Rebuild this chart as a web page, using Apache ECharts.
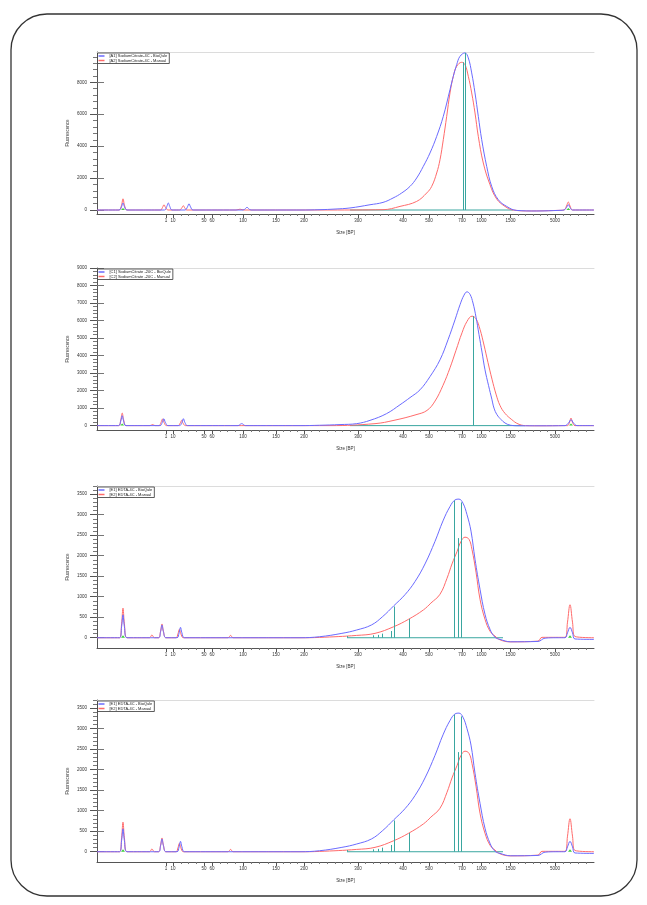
<!DOCTYPE html>
<html><head><meta charset="utf-8">
<script src="https://cdn.jsdelivr.net/npm/echarts@6/dist/echarts.min.js"></script>
<style>html,body{margin:0;padding:0;background:#fff}#c{width:647px;height:905px}</style>
</head><body><div id="c"></div>
<script>
// ---- X axis: migration position (0..497) with size labels [bp] ----
const xTickPos    = [69, 76, 107, 115, 146, 179, 207, 261, 306, 332, 365, 384.5, 413.5, 458];
const xTickLabels = ['1','10','50','60','100','150','200','300','400','500','700','1000','1500','5000'];
const xMaxPos = 497;

// ---- Y tick labels per panel ----
const yTicksA = [0, 2000, 4000, 6000, 8000];
const yTicksC = [0, 1000, 2000, 3000, 4000, 5000, 6000, 7000, 8000, 9000];
const yTicksE = [0, 500, 1000, 1500, 2000, 2500, 3000, 3500];

// ---- Legend names ----
const namesA = ['[A1] SodiumCitrate-4C - BioQule', '[A2] SodiumCitrate-4C - Manual'];
const namesC = ['[C1] SodiumCitrate -20C - BioQule', '[C2] SodiumCitrate -20C - Manual'];
const namesE = ['[E1] EDTA-4C - BioQule', '[E2] EDTA-4C - Manual'];

// ---- Panel A (SodiumCitrate-4C) : [position, fluorescence] ----
const pA_blue = [[0,0],[22,0],[24.5,200],[26,440],[27.5,200],[30,0],[67.5,0],[69.8,220],[71.3,440],[72.8,220],[75,0],[88,0],[90.5,200],[92,395],[93.5,200],[96,0],[146,0],[148.5,90],[150,180],[151.5,90],[154,0],[203,0],[223,20],[238,60],[253,128],[273,330],[286,477],[296,750],[304.7,1066],[313,1480],[319.7,2006],[326.3,2734],[333,3574],[339.7,4615],[346.3,5869],[353,7543],[356.3,8377],[359.7,9110],[363,9630],[368,9844],[371.3,9530],[374.7,8590],[378,7336],[381.3,5869],[384.7,4408],[389.7,2734],[394.7,1480],[401.3,646],[409.7,226],[419.7,-25],[439.7,-60],[463,-20],[467,0],[469.5,160],[471.3,332],[473,160],[475.5,0],[497,0]];
const pA_red  = [[0,0],[22,0],[24.5,300],[26,708],[27.5,300],[30,0],[63.5,0],[65.5,160],[67,330],[68.5,160],[71,0],[82.5,0],[84.8,130],[86.3,270],[87.8,130],[90,0],[139,0],[143,50],[147,0],[233,0],[286,20],[303,226],[319.7,540],[329.7,1066],[334.7,1480],[339.7,2320],[343,3150],[346.3,4408],[349.7,5869],[353,7336],[356.3,8377],[359.7,9005],[364.7,9255],[368,9110],[371.3,8377],[374.7,7336],[378,6082],[381.3,4615],[386.3,2946],[393,1586],[399.7,690],[408,226],[416,0],[433,-60],[463,-20],[467,0],[469.5,250],[471.3,500],[473,250],[475.5,0],[497,0]];
const pA_peaks = [[366.3,9255],[368.7,9844]];
const pA_base  = [253, 416];
const pA_marker = [[26,130],[471.3,130]];

// ---- Panel C (SodiumCitrate -20C) ----
const pC_blue = [[0,0],[21.5,0],[23.8,270],[25.2,566],[26.6,270],[29,0],[63,0],[65.3,190],[66.8,396],[68.3,190],[71,0],[82.5,0],[85,190],[86.4,396],[87.8,190],[90.5,0],[141,0],[144.7,113],[148.5,0],[203,0],[222.6,20],[243,60],[259.7,113],[273,300],[289.4,680],[303,1190],[313,1600],[323,2044],[333,2800],[343,3757],[351,4900],[358,6040],[363,6900],[367,7450],[370,7640],[373,7500],[376,7000],[379,6200],[382,5200],[385,4200],[388,3186],[391.5,2300],[395,1473],[397,1000],[400,623],[404,350],[408,150],[413.7,20],[423,-10],[443,-10],[468,0],[471.5,150],[474,340],[476.5,150],[480,0],[497,0]];
const pC_red  = [[0,0],[21.5,0],[23.8,340],[25.2,717],[26.6,340],[29,0],[53,0],[55.6,60],[58,0],[62,0],[64,180],[65.5,380],[67,180],[69.5,0],[81,0],[83.2,140],[84.6,300],[86,140],[88.5,0],[233,0],[278,113],[297,302],[319,623],[330,868],[338,1400],[346,2300],[353,3300],[359,4300],[365,5300],[370,5950],[375,6250],[379,6100],[383,5500],[387,4600],[391,3600],[395,2650],[399,1800],[403,1150],[408,700],[414.8,340],[421,100],[428.5,0],[443,-10],[468,0],[470.5,0],[472.6,200],[474,434],[475.4,200],[478,0],[497,0]];
const pC_peaks = [[375.8,6250]];
const pC_base  = [253, 428];
const pC_marker = [[25.2,120],[474,120]];

// ---- Panel E (EDTA-4C) ----
const pE_blue = [[0,0],[22.5,0],[24.6,270],[26,558],[27.4,270],[30,0],[61.5,0],[63.6,150],[65,312],[66.4,150],[69,0],[80,0],[82.1,120],[83.5,254],[84.9,120],[87.5,0],[203,0],[222.6,25],[244.9,107],[259.7,189],[274.5,312],[285.7,517],[296.8,780],[308,1050],[318,1370],[328,1800],[338,2350],[346,2850],[353,3200],[358,3360],[362,3380],[366,3280],[370,3000],[374,2600],[378,1915],[383,1183],[388,573],[393,207],[398,12],[403,-40],[413.7,-98],[441,-90],[448,-10],[460,0],[468,0],[470.5,120],[473,254],[475.5,120],[478,-30],[497,-40]];
const pE_red  = [[0,0],[22.5,0],[24.6,340],[26,722],[27.4,340],[30,0],[52.5,0],[54.9,66],[57.5,0],[61.5,0],[63.6,160],[65,336],[66.4,160],[69,0],[79,0],[81,100],[82.4,205],[83.8,100],[86.5,0],[131,0],[133.6,57],[136,0],[203,0],[222.6,8],[259.7,57],[278,107],[296.8,270],[311.6,451],[326.5,680],[333.9,845],[343,1061],[350,1450],[355,1800],[360,2100],[364,2350],[368,2452],[372,2400],[375,2150],[379,1600],[383,940],[388,450],[393,160],[398,40],[403,-50],[413,-100],[441,-82],[445,10],[468,10],[470.5,380],[473,804],[475.5,380],[478,30],[497,0]];
const pE_peaks = [[250.4,40],[276.4,60],[281,70],[285.7,100],[293.8,164],[297.5,762],[312.4,459],[357.2,3340],[361.6,2430],[364.6,3300]];
const pE_base  = [250, 406];
const pE_marker = [[26,60],[473,60]];

const BLUE = '#6b6bff', RED = '#ff6b6b', TEAL = '#3aa6a0', GREEN = '#3fcf3f';
const FONT = 'Liberation Sans, Arial, sans-serif';

const panels = [
  {names:namesA, blue:pA_blue, red:pA_red, peaks:pA_peaks, base:pA_base, marker:pA_marker, yMax:9900, yTicks:yTicksA, top:52},
  {names:namesC, blue:pC_blue, red:pC_red, peaks:pC_peaks, base:pC_base, marker:pC_marker, yMax:9000, yTicks:yTicksC, top:268},
  {names:namesE, blue:pE_blue, red:pE_red, peaks:pE_peaks, base:pE_base, marker:pE_marker, yMax:3700, yTicks:yTicksE, top:486},
  {names:namesE, blue:pE_blue, red:pE_red, peaks:pE_peaks, base:pE_base, marker:pE_marker, yMax:3700, yTicks:yTicksE, top:700}
];

// minor x ticks: subdivide each labelled interval
const xMinor = [];
(function(){
  const pts = xTickPos.concat([xMaxPos]);
  for (let i = 0; i < pts.length - 1; i++) {
    const g = pts[i+1] - pts[i];
    const n = Math.max(1, Math.round(g / 8));
    for (let k = 1; k < n; k++) xMinor.push(pts[i] + g * k / n);
  }
})();
function yMinorOf(ticks, max) {
  const step = ticks[1] - ticks[0], out = [];
  for (let v = 0; v <= max; v += step / 5) {
    if (ticks.indexOf(Math.round(v)) < 0) out.push(v);
  }
  return out;
}
function labelFor(v) {
  let best = 0, bd = 1e9;
  xTickPos.forEach((p, i) => { const d = Math.abs(p - v); if (d < bd) { bd = d; best = i; } });
  return xTickLabels[best];
}

const grid = [], xAxis = [], yAxis = [], series = [], legend = [];
panels.forEach((p, i) => {
  grid.push({left:97, width:497, top:p.top, height:162});
  const xi = xAxis.length;
  xAxis.push({type:'value', gridIndex:i, min:0, max:xMaxPos, position:'bottom',
    axisLine:{show:true, onZero:false, lineStyle:{color:'#555', width:1}},
    axisTick:{show:true, customValues:xTickPos, length:4, lineStyle:{color:'#555'}},
    axisLabel:{show:true, customValues:xTickPos, formatter:labelFor, fontSize:4.5, color:'#333', margin:4, fontFamily:FONT},
    splitLine:{show:false},
    name:'Size [BP]', nameLocation:'middle', nameGap:16, nameTextStyle:{fontSize:4.5, color:'#333', fontFamily:FONT}});
  xAxis.push({type:'value', gridIndex:i, min:0, max:xMaxPos, position:'bottom',
    axisLine:{show:false, onZero:false}, axisTick:{show:true, customValues:xMinor, length:2, lineStyle:{color:'#777'}},
    axisLabel:{show:false}, splitLine:{show:false}});
  xAxis.push({type:'value', gridIndex:i, min:0, max:xMaxPos, position:'top',
    axisLine:{show:true, onZero:false, lineStyle:{color:'#dcdcdc', width:1}}, axisTick:{show:false},
    axisLabel:{show:false}, splitLine:{show:false}});
  const yi = yAxis.length;
  yAxis.push({type:'value', gridIndex:i, min:-250, max:p.yMax, position:'left',
    axisLine:{show:true, onZero:false, lineStyle:{color:'#555', width:1}},
    axisTick:{show:true, customValues:p.yTicks, length:7, lineStyle:{color:'#555'}},
    axisLabel:{show:true, customValues:p.yTicks, formatter:v => String(v), fontSize:4.5, color:'#333', margin:10, fontFamily:FONT},
    splitLine:{show:false},
    name:'Fluorescence', nameLocation:'middle', nameGap:27, nameMoveOverlap:false,
    nameTextStyle:{fontSize:4.5, color:'#333', fontFamily:FONT}});
  yAxis.push({type:'value', gridIndex:i, min:-250, max:p.yMax, position:'left',
    axisLine:{show:false, onZero:false},
    axisTick:{show:true, inside:true, customValues:p.yTicks, length:7, lineStyle:{color:'#777'}},
    axisLabel:{show:false}, splitLine:{show:false}});
  yAxis.push({type:'value', gridIndex:i, min:-250, max:p.yMax, position:'left',
    axisLine:{show:false, onZero:false},
    axisTick:{show:true, customValues:yMinorOf(p.yTicks, p.yMax), length:4, lineStyle:{color:'#777'}},
    axisLabel:{show:false}, splitLine:{show:false}});

  // teal baseline + peak lines
  series.push({type:'line', xAxisIndex:xi, yAxisIndex:yi, name:'base'+i,
    data:[[p.base[0],0],[p.base[1],0]], showSymbol:false, symbol:'none',
    lineStyle:{color:TEAL, width:1}, z:1, silent:true,
    markLine:{symbol:['none','none'], silent:true, label:{show:false}, animation:false,
      lineStyle:{color:TEAL, width:1, type:'solid'},
      emphasis:{disabled:true},
      data:p.peaks.map(([x,h]) => [{coord:[x,0]},{coord:[x,h]}])}});
  // green marker fills
  const g = [];
  p.marker.forEach(([x,h]) => { g.push([x-2,0],[x,h],[x+2,0]); });
  series.push({type:'line', xAxisIndex:xi, yAxisIndex:yi, name:'marker'+i, data:g,
    showSymbol:false, symbol:'none', lineStyle:{width:0}, areaStyle:{color:GREEN, opacity:1}, z:1, silent:true});
  series.push({type:'line', name:p.names[1], xAxisIndex:xi, yAxisIndex:yi, data:p.red,
    smooth:0.4, showSymbol:false, symbol:'none',
    lineStyle:{color:RED, width:1}, itemStyle:{color:RED}, z:3});
  series.push({type:'line', name:p.names[0], xAxisIndex:xi, yAxisIndex:yi, data:p.blue,
    smooth:0.4, showSymbol:false, symbol:'none',
    lineStyle:{color:BLUE, width:1}, itemStyle:{color:BLUE}, z:4});

  legend.push({data:p.names, left:97.5, top:p.top + 1, orient:'vertical', itemGap:0.5,
    itemWidth:6, itemHeight:1.5, icon:'rect', padding:[1,2,1,1],
    borderColor:'#333', borderWidth:0.8, backgroundColor:'#fff', selectedMode:false,
    textStyle:{fontSize:4, color:'#222', fontFamily:FONT}});
});

const chart = echarts.init(document.getElementById('c'), null, {renderer:'canvas'});
chart.setOption({
  animation:false,
  backgroundColor:'#fff',
  graphic:[{type:'rect', shape:{x:11, y:14, width:626, height:882, r:36},
    style:{fill:'none', stroke:'#333', lineWidth:1.3}, silent:true}],
  grid, xAxis, yAxis, series, legend
});
</script></body></html>
